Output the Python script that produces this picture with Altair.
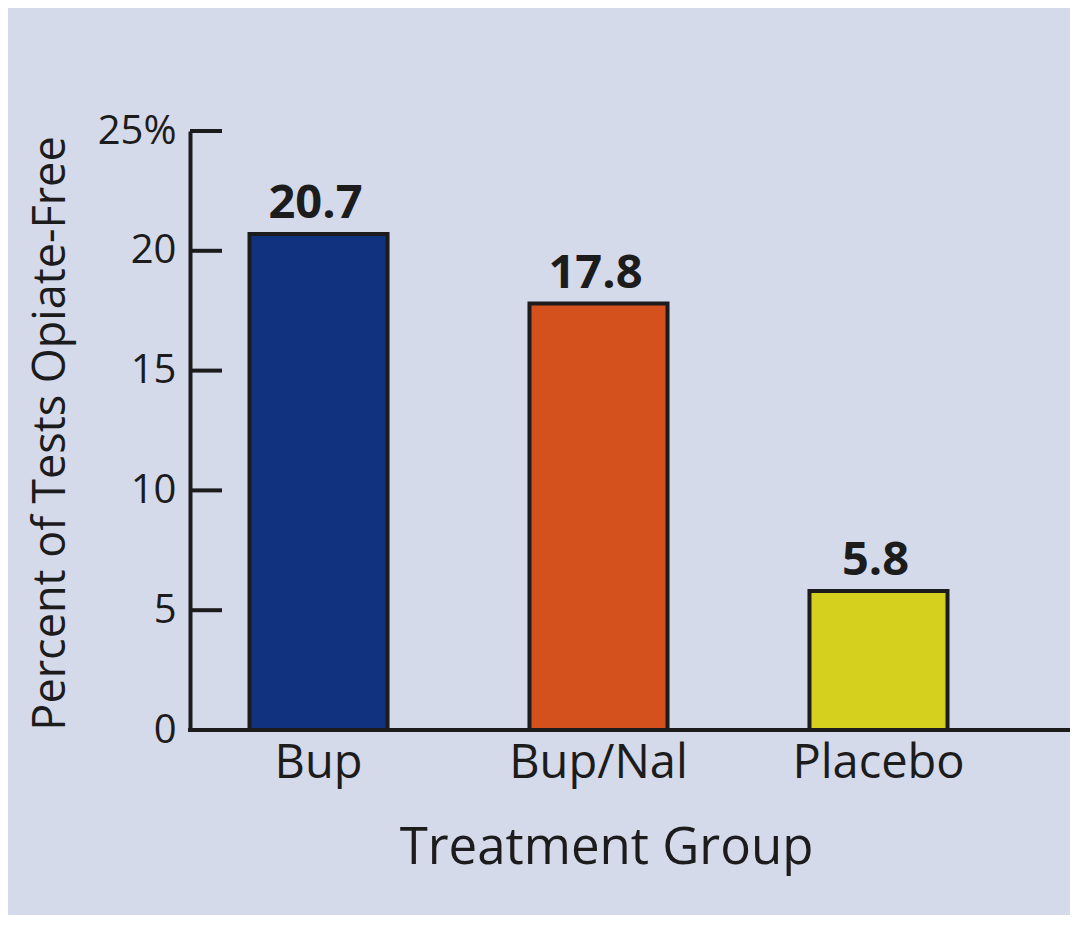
import altair as alt
import pandas as pd

# ---- data ----
groups = ["Bup", "Bup/Nal", "Placebo"]
percents = [20.7, 17.8, 5.8]
bar_colors = ["#11327F", "#D4511E", "#D5CF1E"]
y_tick_values = [0, 5, 10, 15, 20, 25]
inner_tick_values = [5, 10, 15, 20, 25]

df = pd.DataFrame({"group": groups, "pct": percents})
ticks_df = pd.DataFrame({"pct": inner_tick_values})
one_df = pd.DataFrame({"a": [0]})

# ---- style ----
W, H = 880, 599
ink = "#1c1c1c"
bg = "#D5DAEB"
font = "Open Sans"

x_scale = alt.Scale(domain=groups, range=[0, 817], paddingInner=0.507, paddingOuter=0.2125)
y_scale = alt.Scale(domain=[0, 25], nice=False, zero=True)

x_axis = alt.Axis(
    title="Treatment Group", domain=False, ticks=False, tickSize=0, labelAngle=0,
    labelFont=font, labelFontSize=47, labelColor=ink, labelPadding=47,
    labelBaseline="alphabetic",
    titleFont=font, titleFontSize=51, titleFontWeight="normal", titleColor=ink,
    titleX=416, titleY=133, titleBaseline="alphabetic", titleAlign="center",
)
y_axis = alt.Axis(
    values=y_tick_values, labelExpr="datum.value == 25 ? '25%' : datum.label",
    ticks=False, tickSize=0, domain=True, domainColor=ink, domainWidth=4, grid=False,
    labelFont=font, labelFontSize=40, labelColor=ink, labelPadding=14,
    labelBaseline="middle", labelOverlap=False, labelFlush=False,
    title="Percent of Tests Opiate-Free", titleFont=font, titleFontSize=45,
    titleFontWeight="normal", titleColor=ink, titleX=-126, titleY=302,
    titleAngle=-90, titleBaseline="alphabetic", titleAlign="center",
)

X = alt.X("group:N", scale=x_scale, sort=groups, axis=x_axis)
Y = alt.Y("pct:Q", scale=y_scale, axis=y_axis)

bars = alt.Chart(df).mark_bar(stroke=ink, strokeWidth=4).encode(
    x=X, y=Y,
    color=alt.Color("group:N", scale=alt.Scale(domain=groups, range=bar_colors), legend=None),
)

labels = alt.Chart(df).mark_text(
    font=font, fontSize=47, fontWeight="bold", color=ink, baseline="alphabetic", dy=-16, dx=-3
).encode(
    x=X, y=Y,
    text=alt.Text("pct:Q", format=".1f"),
)

tick_rules = alt.Chart(ticks_df).mark_rule(color=ink, strokeWidth=4).encode(
    x=alt.value(0), x2=alt.value(32), y=Y,
)

x_line = alt.Chart(one_df).mark_rule(color=ink, strokeWidth=4).encode(
    x=alt.value(-2), x2=alt.value(W), y=alt.value(H)
)

chart = alt.layer(bars, labels, tick_rules, x_line).properties(
    width=W, height=H, background=bg,
    padding={"left": 182, "top": 123, "right": 0, "bottom": 185},
    autosize=alt.AutoSizeParams(type="none"),
).configure_view(stroke=None)

chart.save("out.html", embed_options={"renderer": "svg", "actions": False})
